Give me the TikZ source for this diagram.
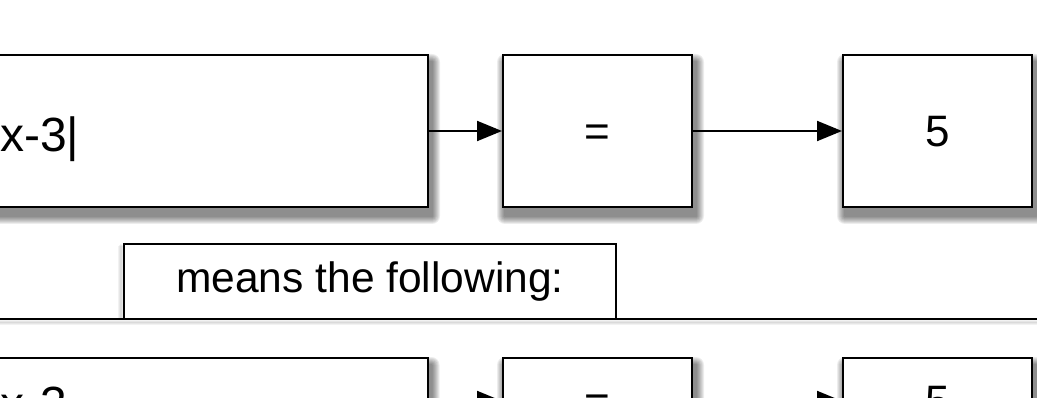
\documentclass[tikz,border=0pt]{standalone}
\usepackage{fontspec}
\setmainfont{Liberation Sans}
\usetikzlibrary{arrows.meta,backgrounds}
\newcommand{\softshadow}[1]{%
  \foreach \r in {1,...,8}{%
    \fill[black, opacity=0.07, rounded corners=\r pt]
      ([shift={(3pt-\r pt,-8pt-\r pt)}]#1.south west) rectangle ([shift={(3pt+\r pt,-8pt+\r pt)}]#1.north east);}}
\begin{document}
\begin{tikzpicture}[x=1pt,y=1pt,
  box/.style={draw=black, line width=2pt, fill=white, inner sep=0pt},
  bigtxt/.style={font=\fontsize{44}{50}\selectfont, text height=31.5pt, text depth=0pt},
  lefttxt/.style={font=\fontsize{48}{54}\selectfont, inner sep=0pt, anchor=base west},
  arr/.style={line width=2pt, -{Triangle[length=25pt,width=20pt]}}]
\useasboundingbox (0,0) rectangle (1037,-398);
% top row
\node[box, minimum width=468pt, minimum height=152pt] (b1) at (194,-131) {};
\node[lefttxt] (t1) at (0,-152) {x-3|};
\node[box, bigtxt, minimum width=189pt, minimum height=152pt] (b2) at (597.5,-131) {=};
\node[box, bigtxt, minimum width=189pt, minimum height=152pt] (b3) at (937.5,-131) {5};
\draw[arr] (b1.east) -- (b2.west);
\draw[arr] (b2.east) -- (b3.west);
% separator
\coordinate (L) at (-20,-319.5);
\coordinate (R) at (1060,-319.5);
\draw[line width=2pt] (L) -- (R);
\node[box, font=\fontsize{42.5}{48}\selectfont, text height=31pt, text depth=9pt, minimum width=492pt, minimum height=75pt] (m) at (370,-282) {means the following:};
% bottom row
\node[box, minimum width=468pt, minimum height=86pt] (b4) at (193.5,-401) {};
\node[lefttxt] (t4) at (0,-420) {x-3};
\node[box, bigtxt, minimum width=189pt, minimum height=86pt] (b5) at (597.5,-401) {=};
\node[box, bigtxt, minimum width=189pt, minimum height=86pt] (b6) at (937.5,-401) {5};
\draw[arr] (b4.east) -- (b5.west);
\draw[arr] (b5.east) -- (b6.west);
% shadows
\begin{scope}[on background layer]
  \softshadow{b1}\softshadow{b2}\softshadow{b3}
  \softshadow{b4}\softshadow{b5}\softshadow{b6}
  \foreach \r in {1,...,3}{%
    \fill[black, opacity=0.05] ([shift={(0,-\r pt)}]L) rectangle ([shift={(0,-3pt-\r pt)}]R);}
  \foreach \r in {1,...,3}{%
    \fill[black, opacity=0.05] ([shift={(-2pt-\r pt,0)}]m.south west) rectangle ([shift={(-2pt+\r pt,-\r pt)}]m.north west);}
\end{scope}
\end{tikzpicture}
\end{document}
